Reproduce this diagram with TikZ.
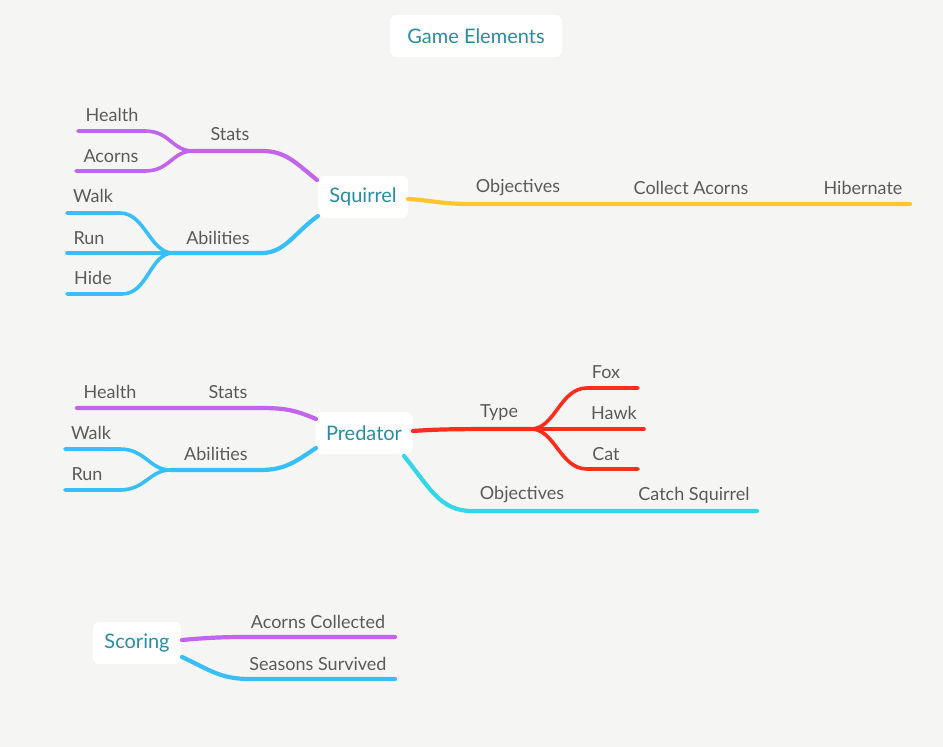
\documentclass[tikz,border=0pt]{standalone}
\usepackage{fontspec}
\setmainfont{Lato}
\definecolor{bgc}{HTML}{F5F6F4}
\definecolor{purp}{HTML}{C264EE}
\definecolor{blu}{HTML}{38BEF9}
\definecolor{yel}{HTML}{FFC52F}
\definecolor{redc}{HTML}{FF2B1C}
\definecolor{cya}{HTML}{33D7E6}
\definecolor{txt}{HTML}{5A5A5A}
\definecolor{teal2}{HTML}{2A8DA6}
\begin{document}
\begin{tikzpicture}[x=1pt,y=-1pt,
  topic/.style={fill=white,rounded corners=6pt,text=teal2,font=\fontsize{20}{24}\selectfont,minimum height=42pt,inner xsep=8pt},
  lbl/.style={text=txt,font=\fontsize{18}{21}\selectfont,inner sep=0pt},
  br/.style={line width=4.2pt,line cap=round},
  sub/.style={line width=3.6pt,line cap=round}]
\fill[bgc] (0,0) rectangle (943,747);
\useasboundingbox (0,0) rectangle (943,747);

% topics
\node[topic,minimum width=172pt] (ge) at (476,36) {Game Elements};
\node[topic,minimum width=90pt] (sq) at (363,197) {Squirrel};
\node[topic,minimum width=97pt] (pr) at (364,433) {Predator};
\node[topic,minimum width=88pt] (sc) at (137,643) {Scoring};

% ---------- Squirrel ----------
\coordinate (sqA) at (317,180);
\coordinate (sqB) at (318,216);
\coordinate (sqC) at (408,199);
\coordinate (stJ) at (193,151);
\coordinate (hE) at (78,131);
\coordinate (aE) at (76,171);
\coordinate (abJ) at (173,253);
\coordinate (wE) at (67,213);
\coordinate (rE) at (67,253);
\coordinate (hiE) at (67,294);
\coordinate (obE) at (910,204);

\begin{scope}[purp]
\draw[br] (sqA) .. controls (295,162) and (285,151) .. (262,151) -- (stJ);
\draw[sub] (stJ) .. controls (172,151) and (170,131) .. (145,131) -- (hE);
\draw[sub] (stJ) .. controls (172,151) and (170,171) .. (145,171) -- (aE);
\end{scope}
\begin{scope}[blu]
\draw[br] (sqB) .. controls (295,232) and (285,253) .. (262,253) -- (abJ);
\draw[sub] (abJ) .. controls (150,253) and (145,213) .. (120,213) -- (wE);
\draw[sub] (abJ) -- (rE);
\draw[sub] (abJ) .. controls (150,253) and (148,294) .. (122,294) -- (hiE);
\end{scope}
\draw[yel,br] (sqC) .. controls (430,200) and (440,204) .. (470,204) -- (obE);

\node[lbl] (sqStats) at (230,134) {Stats};
\node[lbl] (sqHealth) at (112,115) {Health};
\node[lbl] (sqAcorns) at (111,156) {Acorns};
\node[lbl] (sqAb) at (218,238) {Abilities};
\node[lbl] (sqWalk) at (93,196) {Walk};
\node[lbl] (sqRun) at (89,238) {Run};
\node[lbl] (sqHide) at (93,278) {Hide};
\node[lbl] (sqObj) at (518,188) {Objectives};
\node[lbl] (sqCol) at (691,188) {Collect Acorns};
\node[lbl] (sqHib) at (863,188) {Hibernate};

% ---------- Predator ----------
\coordinate (prA) at (316,419);
\coordinate (prB) at (316,448);
\coordinate (prC) at (413,431);
\coordinate (prD) at (404,456);
\coordinate (phE) at (77,408);
\coordinate (pabJ) at (170,470);
\coordinate (pwE) at (65,449);
\coordinate (prE) at (65,490);
\coordinate (tJ) at (531,429);
\coordinate (foxE) at (638,388);
\coordinate (hawkE) at (644,429);
\coordinate (catE) at (638,469);
\coordinate (pobE) at (757,511);

\draw[purp,br] (prA) .. controls (295,410) and (285,408) .. (260,408) -- (phE);
\begin{scope}[blu]
\draw[br] (prB) .. controls (295,462) and (285,470) .. (260,470) -- (pabJ);
\draw[sub] (pabJ) .. controls (150,470) and (145,449) .. (120,449) -- (pwE);
\draw[sub] (pabJ) .. controls (150,470) and (145,490) .. (120,490) -- (prE);
\end{scope}
\begin{scope}[redc]
\draw[br] (prC) .. controls (440,429) and (460,429) .. (tJ);
\draw[sub] (tJ) .. controls (555,429) and (560,388) .. (587,388) -- (foxE);
\draw[sub] (tJ) -- (hawkE);
\draw[sub] (tJ) .. controls (555,429) and (560,469) .. (587,469) -- (catE);
\end{scope}
\draw[cya,br] (prD) .. controls (430,488) and (440,511) .. (472,511) -- (pobE);

\node[lbl] (pHealth) at (110,392) {Health};
\node[lbl] (pStats) at (228,392) {Stats};
\node[lbl] (pWalk) at (91,433) {Walk};
\node[lbl] (pRun) at (87,474) {Run};
\node[lbl] (pAb) at (216,454) {Abilities};
\node[lbl] (pType) at (499,413) {Type};
\node[lbl] (pFox) at (606,372) {Fox};
\node[lbl] (pHawk) at (614,413) {Hawk};
\node[lbl] (pCat) at (606,454) {Cat};
\node[lbl] (pObj) at (522,495) {Objectives};
\node[lbl] (pCatch) at (694,495) {Catch Squirrel};

% ---------- Scoring ----------
\coordinate (scA) at (182,640);
\coordinate (scB) at (182,657);
\coordinate (acE) at (395,637);
\coordinate (ssE) at (395,679);
\draw[purp,br] (scA) .. controls (205,638) and (220,637) .. (245,637) -- (acE);
\draw[blu,br] (scB) .. controls (210,670) and (220,679) .. (250,679) -- (ssE);
\node[lbl] (scAc) at (318,622) {Acorns Collected};
\node[lbl] (scSs) at (318,664) {Seasons Survived};
\end{tikzpicture}
\end{document}
